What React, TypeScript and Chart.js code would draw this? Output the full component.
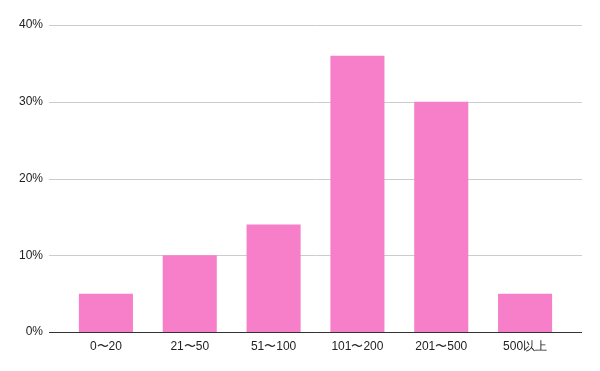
import React, { useEffect, useRef } from "react";
import { Chart, registerables } from "chart.js";

Chart.register(...registerables);

const categories = ["0〜20", "21〜50", "51〜100", "101〜200", "201〜500", "500以上"];
const shares = [5, 10, 14, 36, 30, 5];
const yTicks = [0, 10, 20, 30, 40];

const wideGrid = {
  id: "wideGrid",
  beforeDatasetsDraw(chart: any) {
    const { ctx, scales } = chart;
    const y = scales.y;
    const x0 = 49;
    const x1 = 582;
    ctx.save();
    ctx.lineWidth = 1;
    yTicks.forEach((v) => {
      const py = Math.round(y.getPixelForValue(v)) + 0.5;
      ctx.strokeStyle = v === 0 ? "#333333" : "#CCCCCC";
      ctx.beginPath();
      ctx.moveTo(x0, py);
      ctx.lineTo(x1, py);
      ctx.stroke();
    });
    ctx.restore();
  },
  afterDatasetsDraw(chart: any) {
    const { ctx, scales } = chart;
    const py = Math.round(scales.y.getPixelForValue(0)) + 0.5;
    ctx.save();
    ctx.strokeStyle = "#333333";
    ctx.lineWidth = 1;
    ctx.beginPath();
    ctx.moveTo(49, py);
    ctx.lineTo(582, py);
    ctx.stroke();
    ctx.restore();
  },
};

export default function App() {
  const ref = useRef<HTMLCanvasElement | null>(null);
  useEffect(() => {
    if (!ref.current) return;
    const chart = new Chart(ref.current, {
      type: "bar",
      data: {
        labels: categories,
        datasets: [
          {
            data: shares,
            backgroundColor: "#F77FC9",
            borderWidth: 0,
            categoryPercentage: 1,
            barPercentage: 0.645,
          },
        ],
      },
      options: {
        animation: false,
        responsive: false,
        maintainAspectRatio: false,
        layout: { padding: { top: 25, right: 33, left: 0, bottom: 0 } },
        plugins: { legend: { display: false }, tooltip: { enabled: false } },
        scales: {
          x: {
            grid: { display: false, drawTicks: false },
            border: { display: false },
            ticks: {
              color: "#222222",
              font: { family: "'Liberation Sans', Arial, sans-serif", size: 12 },
              padding: 7,
              maxRotation: 0,
            },
            afterFit: (s: any) => {
              s.height = 39;
            },
          },
          y: {
            min: 0,
            max: 40,
            afterBuildTicks: (s: any) => {
              s.ticks = yTicks.map((v) => ({ value: v }));
            },
            grid: { display: false, drawTicks: false },
            border: { display: false },
            ticks: {
              color: "#222222",
              font: { family: "'Liberation Sans', Arial, sans-serif", size: 12 },
              padding: 21,
              callback: (v: any) => v + "%",
            },
            afterFit: (s: any) => {
              s.width = 64;
              s.paddingTop = 0;
              s.paddingBottom = 0;
            },
          },
        },
      },
      plugins: [wideGrid],
    });
    return () => chart.destroy();
  }, []);
  return (
    <div style={{ position: "absolute", left: 0, top: 0, width: 600, height: 371, background: "#fff" }}>
      <canvas ref={ref} width={600} height={371} style={{ width: 600, height: 371 }} />
    </div>
  );
}
